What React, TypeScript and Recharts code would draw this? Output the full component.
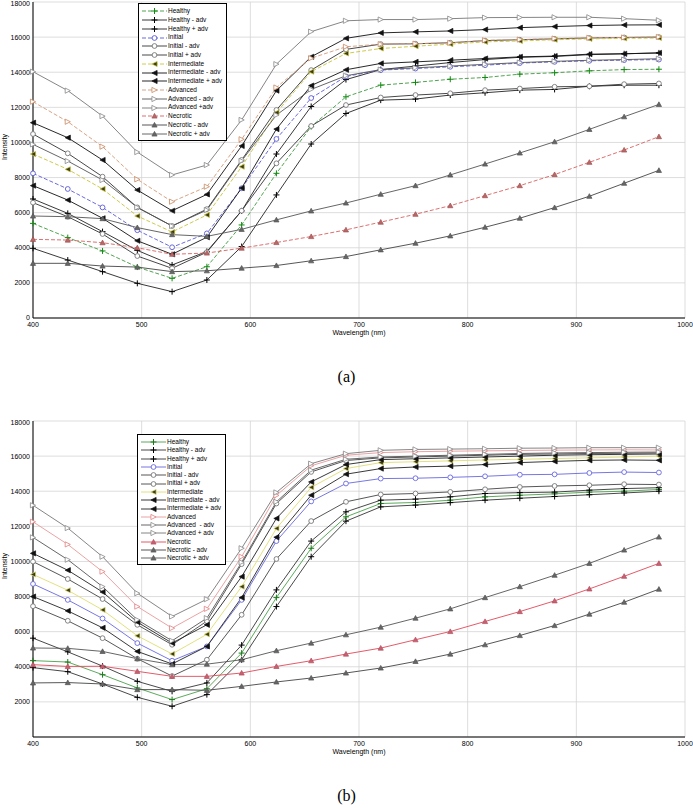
import React from 'react';
import { LineChart, Line, XAxis, YAxis, CartesianGrid } from 'recharts';

// wavelengths (nm) of the sampled points
const wavelengths = [400, 432, 464, 496, 528, 560, 592, 624, 656, 688, 720, 752, 784, 816, 848, 880, 912, 944, 976];
const xTicks = [400, 500, 600, 700, 800, 900, 1000];
const yTicksA = [0, 2000, 4000, 6000, 8000, 10000, 12000, 14000, 16000, 18000];
const yTicksB = [2000, 4000, 6000, 8000, 10000, 12000, 14000, 16000, 18000];

// panel (a)
const aHealthy = [5390, 4580, 3820, 2900, 2260, 2920, 5300, 8240, 10900, 12600, 13265, 13420, 13600, 13700, 13890, 13970, 14080, 14150, 14170];
const aHealthyMinus = [3970, 3300, 2640, 1975, 1500, 2165, 4070, 7010, 9910, 11650, 12410, 12470, 12700, 12830, 12980, 13020, 13200, 13260, 13260];
const aHealthyPlus = [6780, 5960, 4920, 3850, 3020, 3790, 6100, 9340, 12050, 13580, 14150, 14350, 14550, 14720, 14850, 14900, 15000, 15050, 15100];
const aInitial = [8240, 7350, 6300, 5000, 4030, 4820, 7390, 10200, 12530, 13760, 14120, 14210, 14310, 14400, 14520, 14590, 14650, 14690, 14720];
const aInitialMinus = [6570, 5770, 4785, 3530, 2830, 3750, 6110, 8810, 10935, 12130, 12560, 12700, 12800, 12980, 13070, 13170, 13200, 13320, 13360];
const aInitialPlus = [10480, 9380, 8050, 6300, 5240, 6200, 9000, 11850, 14120, 15300, 15600, 15620, 15680, 15800, 15850, 15900, 15950, 15980, 16000];
const aIntermediate = [9340, 8470, 7350, 5810, 4900, 5870, 8620, 11700, 14030, 15070, 15350, 15480, 15600, 15730, 15780, 15850, 15900, 15930, 15950];
const aIntMinus = [7540, 6720, 5680, 4400, 3630, 4600, 7400, 10760, 13240, 14140, 14500, 14590, 14685, 14780, 14875, 14920, 15030, 15050, 15100];
const aIntPlus = [11125, 10270, 9000, 7290, 6110, 7040, 9800, 12950, 14880, 15930, 16240, 16300, 16350, 16430, 16540, 16600, 16660, 16690, 16700];
const aAdvanced = [12320, 11180, 9760, 7900, 6625, 7480, 10180, 13130, 14800, 15450, 15600, 15630, 15670, 15820, 15860, 15920, 15960, 15980, 16010];
const aAdvMinus = [9890, 8940, 7860, 6300, 5240, 6150, 8950, 11560, 13020, 13800, 14150, 14250, 14350, 14450, 14550, 14620, 14680, 14720, 14770];
const aAdvPlus = [14030, 12950, 11500, 9450, 8150, 8715, 11280, 14460, 16310, 16930, 17000, 17000, 17050, 17110, 17120, 17130, 17130, 17050, 16960];
const aNecrotic = [4480, 4440, 4290, 4000, 3630, 3700, 3980, 4300, 4640, 5020, 5460, 5910, 6400, 6970, 7540, 8170, 8870, 9570, 10330];
const aNecMinus = [3115, 3115, 2960, 2900, 2640, 2690, 2840, 2990, 3260, 3500, 3885, 4260, 4680, 5170, 5685, 6290, 6935, 7675, 8410];
const aNecPlus = [5810, 5770, 5660, 5150, 4750, 4650, 5050, 5590, 6100, 6550, 7050, 7540, 8150, 8770, 9400, 10040, 10745, 11465, 12165];

// panel (b)
const bHealthy = [4350, 4270, 3550, 2795, 2130, 2750, 4780, 7940, 10750, 12540, 13300, 13360, 13490, 13680, 13770, 13850, 13950, 14000, 14100];
const bHealthyMinus = [3950, 3720, 3020, 2260, 1750, 2415, 4400, 7430, 10270, 12295, 13110, 13210, 13350, 13490, 13600, 13700, 13800, 13900, 14000];
const bHealthyPlus = [5630, 4850, 4040, 3170, 2600, 3080, 5235, 8380, 11160, 12825, 13490, 13550, 13680, 13870, 13920, 13950, 14060, 14150, 14200];
const bInitial = [8720, 7810, 6750, 5350, 4345, 5160, 7810, 11160, 13420, 14440, 14720, 14740, 14790, 14850, 14940, 14960, 15040, 15090, 15065];
const bInitialMinus = [7450, 6620, 5630, 4460, 3470, 4400, 6960, 10140, 12300, 13395, 13815, 13870, 13960, 14110, 14240, 14300, 14340, 14400, 14380];
const bInitialPlus = [9990, 9000, 7860, 6390, 5255, 6600, 9850, 13300, 15100, 15750, 15900, 15950, 16000, 16050, 16100, 16120, 16150, 16160, 16180];
const bIntermediate = [9260, 8360, 7240, 5765, 4730, 5850, 8565, 11880, 14220, 15290, 15630, 15680, 15730, 15780, 15820, 15860, 15900, 15950, 16000];
const bIntMinus = [8000, 7185, 6220, 4875, 4160, 5160, 7940, 11380, 13775, 14970, 15290, 15380, 15430, 15520, 15630, 15700, 15760, 15780, 15760];
const bIntPlus = [10460, 9500, 8260, 6545, 5350, 6390, 9135, 12450, 14530, 15520, 15800, 15850, 15900, 15950, 16000, 16050, 16080, 16100, 16120];
const bAdvanced = [12260, 10970, 9420, 7430, 6200, 7300, 10270, 13760, 15450, 16050, 16200, 16250, 16280, 16300, 16320, 16340, 16350, 16360, 16350];
const bAdvMinus = [11370, 10100, 8565, 6675, 5480, 6770, 9950, 13400, 15200, 15820, 15950, 16000, 16050, 16100, 16150, 16180, 16200, 16220, 16230];
const bAdvPlus = [13200, 11900, 10270, 8190, 6865, 7850, 10750, 13930, 15570, 16140, 16330, 16380, 16400, 16420, 16450, 16460, 16480, 16480, 16480];
const bNecrotic = [4120, 4020, 4030, 3740, 3455, 3455, 3645, 4020, 4345, 4725, 5065, 5540, 6010, 6580, 7145, 7755, 8435, 9155, 9890];
const bNecMinus = [3080, 3100, 3020, 2700, 2700, 2660, 2885, 3135, 3360, 3645, 3930, 4305, 4725, 5255, 5780, 6350, 7000, 7680, 8420];
const bNecPlus = [5070, 5050, 4875, 4460, 4120, 4150, 4400, 4915, 5350, 5822, 6257, 6770, 7300, 7940, 8565, 9215, 9890, 10650, 11390];

type Shape = 'plus' | 'circle' | 'left' | 'right' | 'up';
type Mk = { shape: Shape; stroke: string; fill: string };
type Series = { key: string; name: string; values: number[]; color: string; dash?: string; mk: Mk };

const Marker = ({ cx, cy, shape, stroke, fill }: Mk & { cx: number; cy: number }) => {
  if (cx == null || cy == null) return null;
  const s = 2.6;
  switch (shape) {
    case 'plus':
      return (
        <g stroke={stroke} strokeWidth={1}>
          <line x1={cx - 3} y1={cy} x2={cx + 3} y2={cy} />
          <line x1={cx} y1={cy - 3} x2={cx} y2={cy + 3} />
        </g>
      );
    case 'circle':
      return <circle cx={cx} cy={cy} r={2.4} stroke={stroke} fill={fill} strokeWidth={0.9} />;
    case 'left':
      return <polygon points={`${cx - s},${cy} ${cx + s},${cy - s} ${cx + s},${cy + s}`} stroke={stroke} fill={fill} strokeWidth={0.7} />;
    case 'right':
      return <polygon points={`${cx + s},${cy} ${cx - s},${cy - s} ${cx - s},${cy + s}`} stroke={stroke} fill={fill} strokeWidth={0.8} />;
    default:
      return <polygon points={`${cx},${cy - s} ${cx - s},${cy + s * 0.8} ${cx + s},${cy + s * 0.8}`} stroke={stroke} fill={fill} strokeWidth={0.7} />;
  }
};

const plusBlack: Mk = { shape: 'plus', stroke: '#000', fill: 'none' };

const seriesA: Series[] = [
  { key: 'h', name: 'Healthy', values: aHealthy, color: '#3c9a3c', dash: '4 2', mk: { shape: 'plus', stroke: '#128a12', fill: 'none' } },
  { key: 'hm', name: 'Healthy - adv', values: aHealthyMinus, color: '#222', mk: plusBlack },
  { key: 'hp', name: 'Healthy + adv', values: aHealthyPlus, color: '#222', mk: plusBlack },
  { key: 'i', name: 'Initial', values: aInitial, color: '#5a5ad8', dash: '4 2', mk: { shape: 'circle', stroke: '#5a5ad8', fill: '#fff' } },
  { key: 'im', name: 'Initial - adv', values: aInitialMinus, color: '#333', mk: { shape: 'circle', stroke: '#777', fill: '#fff' } },
  { key: 'ip', name: 'Initial + adv', values: aInitialPlus, color: '#333', mk: { shape: 'circle', stroke: '#777', fill: '#fff' } },
  { key: 't', name: 'Intermediate', values: aIntermediate, color: '#c8c43a', dash: '4 2', mk: { shape: 'left', stroke: '#c8c43a', fill: '#3a3a18' } },
  { key: 'tm', name: 'Intermediate - adv', values: aIntMinus, color: '#111', mk: { shape: 'left', stroke: '#111', fill: '#111' } },
  { key: 'tp', name: 'Intermediate + adv', values: aIntPlus, color: '#111', mk: { shape: 'left', stroke: '#111', fill: '#111' } },
  { key: 'a', name: 'Advanced', values: aAdvanced, color: '#d49a78', dash: '4 2', mk: { shape: 'right', stroke: '#c88860', fill: '#fff' } },
  { key: 'am', name: 'Advanced - adv', values: aAdvMinus, color: '#555', mk: { shape: 'right', stroke: '#888', fill: '#fff' } },
  { key: 'ap', name: 'Advanced +adv', values: aAdvPlus, color: '#777', mk: { shape: 'right', stroke: '#888', fill: '#fff' } },
  { key: 'n', name: 'Necrotic', values: aNecrotic, color: '#d86060', dash: '4 2', mk: { shape: 'up', stroke: '#a05050', fill: '#b86868' } },
  { key: 'nm', name: 'Necrotic - adv', values: aNecMinus, color: '#444', mk: { shape: 'up', stroke: '#555', fill: '#666' } },
  { key: 'np', name: 'Necrotic + adv', values: aNecPlus, color: '#555', mk: { shape: 'up', stroke: '#555', fill: '#666' } },
];

const seriesB: Series[] = [
  { key: 'h', name: 'Healthy', values: bHealthy, color: '#4aa04a', mk: { shape: 'plus', stroke: '#1a7a1a', fill: 'none' } },
  { key: 'hm', name: 'Healthy - adv', values: bHealthyMinus, color: '#333', mk: plusBlack },
  { key: 'hp', name: 'Healthy + adv', values: bHealthyPlus, color: '#333', mk: plusBlack },
  { key: 'i', name: 'Initial', values: bInitial, color: '#6868e0', mk: { shape: 'circle', stroke: '#6868e0', fill: '#fff' } },
  { key: 'im', name: 'Initial - adv', values: bInitialMinus, color: '#444', mk: { shape: 'circle', stroke: '#777', fill: '#fff' } },
  { key: 'ip', name: 'Initial + adv', values: bInitialPlus, color: '#444', mk: { shape: 'circle', stroke: '#777', fill: '#fff' } },
  { key: 't', name: 'Intermediate', values: bIntermediate, color: '#e0dc70', mk: { shape: 'left', stroke: '#e0dc70', fill: '#3a3a18' } },
  { key: 'tm', name: 'Intermediate - adv', values: bIntMinus, color: '#222', mk: { shape: 'left', stroke: '#111', fill: '#111' } },
  { key: 'tp', name: 'Intermediate + adv', values: bIntPlus, color: '#222', mk: { shape: 'left', stroke: '#111', fill: '#111' } },
  { key: 'a', name: 'Advanced', values: bAdvanced, color: '#e89898', mk: { shape: 'right', stroke: '#e08080', fill: '#fff' } },
  { key: 'am', name: 'Advanced  - adv', values: bAdvMinus, color: '#555', mk: { shape: 'right', stroke: '#888', fill: '#fff' } },
  { key: 'ap', name: 'Advanced + adv', values: bAdvPlus, color: '#777', mk: { shape: 'right', stroke: '#888', fill: '#fff' } },
  { key: 'n', name: 'Necrotic', values: bNecrotic, color: '#e04858', mk: { shape: 'up', stroke: '#b05060', fill: '#c86070' } },
  { key: 'nm', name: 'Necrotic - adv', values: bNecMinus, color: '#444', mk: { shape: 'up', stroke: '#555', fill: '#666' } },
  { key: 'np', name: 'Necrotic + adv', values: bNecPlus, color: '#555', mk: { shape: 'up', stroke: '#555', fill: '#666' } },
];

const buildRows = (series: Series[]) =>
  wavelengths.map((wl, i) => {
    const row: Record<string, number> = { wl };
    series.forEach((s) => (row[s.key] = s.values[i]));
    return row;
  });

const font = '"Liberation Sans", Arial, sans-serif';

const LegendBox = ({ series, left, top, rowH }: { series: Series[]; left: number; top: number; rowH: number }) => (
  <div
    style={{
      position: 'absolute',
      left,
      top,
      background: '#fff',
      border: '1px solid #000',
      padding: '3px 4px 2px 3px',
      fontFamily: font,
      fontSize: 6.5,
      lineHeight: `${rowH}px`,
    }}
  >
    {series.map((s) => (
      <div key={s.key} style={{ display: 'flex', alignItems: 'center', height: rowH, whiteSpace: 'pre' }}>
        <svg width={25} height={8} style={{ marginRight: 1 }}>
          <line x1={0} y1={4} x2={25} y2={4} stroke={s.color} strokeWidth={0.9} strokeDasharray={s.dash} />
          <Marker cx={12.5} cy={4} {...s.mk} />
        </svg>
        <span>{s.name}</span>
      </div>
    ))}
  </div>
);

const Panel = ({ series, yTicks, top, legend, caption, captionTop, rowH }: any) => {
  const rows = buildRows(series);
  return (
    <>
      <div style={{ position: 'absolute', left: 0, top }}>
        <LineChart width={693} height={343} data={rows} margin={{ top: 2, right: 8, bottom: 5, left: 5 }}>
          <CartesianGrid stroke="#d4d4d4" strokeWidth={0.8} />
          <XAxis
            dataKey="wl"
            type="number"
            domain={[400, 1000]}
            ticks={xTicks}
            height={20}
            tickSize={0}
            tickMargin={4}
            axisLine={{ stroke: '#000' }}
            tick={{ fontSize: 7, fill: '#000', fontFamily: font }}
            label={{ value: 'Wavelength (nm)', position: 'insideBottom', offset: 3, fontSize: 7, fill: '#000', fontFamily: font }}
          />
          <YAxis
            type="number"
            domain={[0, 18000]}
            ticks={yTicks}
            width={28}
            tickSize={0}
            tickMargin={3}
            axisLine={{ stroke: '#000' }}
            tick={{ fontSize: 7, fill: '#000', fontFamily: font }}
            label={{ value: 'Intensity', angle: -90, position: 'insideLeft', offset: 0, fontSize: 7, fill: '#000', fontFamily: font }}
          />
          {series.map((s: Series) => (
            <Line
              key={s.key}
              type="linear"
              dataKey={s.key}
              name={s.name}
              stroke={s.color}
              strokeWidth={0.9}
              strokeDasharray={s.dash}
              dot={(p: any) => <Marker key={`${s.key}-${p.index}`} cx={p.cx} cy={p.cy} {...s.mk} />}
              activeDot={false}
              isAnimationActive={false}
            />
          ))}
        </LineChart>
      </div>
      <LegendBox series={series} left={legend[0]} top={legend[1]} rowH={rowH} />
      <div
        style={{
          position: 'absolute',
          left: 0,
          width: 693,
          top: captionTop,
          textAlign: 'center',
          fontFamily: '"Liberation Serif", "Times New Roman", serif',
          fontSize: 16,
        }}
      >
        {caption}
      </div>
    </>
  );
};

export default function App() {
  return (
    <div style={{ position: 'absolute', left: 0, top: 0, width: 693, height: 808, background: '#fff' }}>
      <Panel series={seriesA} yTicks={yTicksA} top={0} legend={[138, 3]} rowH={8.75} caption="(a)" captionTop={368} />
      <Panel series={seriesB} yTicks={yTicksB} top={419} legend={[137, 434]} rowH={8.3} caption="(b)" captionTop={787} />
    </div>
  );
}
